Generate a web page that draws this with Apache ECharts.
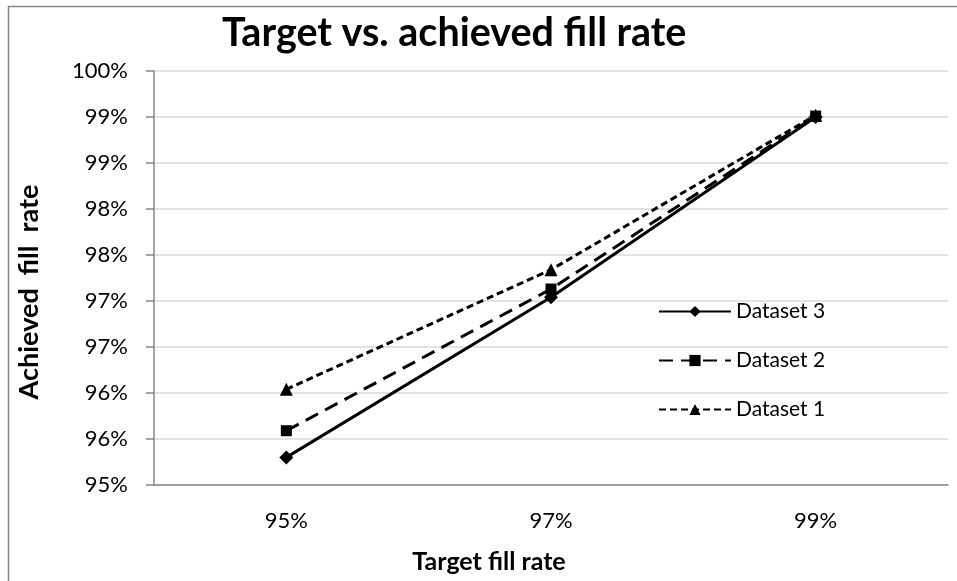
<!DOCTYPE html>
<html>
<head>
<meta charset="utf-8">
<script src="https://cdn.jsdelivr.net/npm/echarts@6/dist/echarts.min.js"></script>
<style>
html,body{margin:0;padding:0;background:#fff;}
#chart{width:957px;height:581px;}
</style>
</head>
<body>
<div id="chart"></div>
<script>
const categories = ['95%', '97%', '99%'];
const seriesNames = ['Dataset 3', 'Dataset 2', 'Dataset 1'];
const dataset3 = [95.30, 97.04, 99.00];
const dataset2 = [95.59, 97.13, 99.01];
const dataset1 = [96.04, 97.34, 99.02];
const yMin = 95, yMax = 99.5, yStep = 0.5;

const FONT = 'Lato';
const chart = echarts.init(document.getElementById('chart'), null, {renderer: 'canvas'});

function lineSeries(name, data, symbol, symbolSize, dash) {
  return {
    name: name, type: 'line', data: data,
    symbol: symbol, symbolSize: symbolSize,
    lineStyle: {color: '#000', width: 3, type: dash},
    itemStyle: {color: '#000'},
    z: 3
  };
}

chart.setOption({
  animation: false,
  backgroundColor: '#fff',
  textStyle: {fontFamily: FONT, color: '#000'},
  title: {
    text: 'Target vs. achieved fill rate',
    left: 217, top: 8,
    textStyle: {fontFamily: FONT, fontWeight: 'bold', fontSize: 39.5, color: '#000'}
  },
  graphic: [{
    type: 'rect', left: 6, top: 4,
    shape: {x: 0, y: 0, width: 970, height: 600},
    style: {fill: 'none', stroke: '#878787', lineWidth: 1.5},
    silent: true
  }],
  grid: {left: 154, right: 9, top: 71, bottom: 96},
  legend: {
    orient: 'vertical',
    left: 653, top: 296,
    data: seriesNames,
    itemWidth: 72, itemHeight: 14, itemGap: 28,
    textStyle: {fontFamily: FONT, fontSize: 21, color: '#000', lineHeight: 20}
  },
  xAxis: {
    type: 'category', data: categories, boundaryGap: true,
    name: 'Target fill rate', nameLocation: 'middle', nameGap: 64,
    nameTextStyle: {fontFamily: FONT, fontWeight: 'bold', fontSize: 25, color: '#000', padding: [0, 124, 0, 0]},
    axisLine: {lineStyle: {color: '#878787', width: 1.5}},
    axisTick: {length: 8, lineStyle: {color: '#878787', width: 1.5}},
    axisLabel: {fontFamily: FONT, fontSize: 22, color: '#000', margin: 25}
  },
  yAxis: {
    type: 'value', min: yMin, max: yMax, interval: yStep,
    name: 'Achieved  fill  rate', nameLocation: 'middle', nameGap: 111,
    nameTextStyle: {fontFamily: FONT, fontWeight: 'bold', fontSize: 27, color: '#000', padding: [0, 28, 0, 0]},
    axisLine: {show: true, lineStyle: {color: '#878787', width: 1.5}},
    axisTick: {show: true, length: 8, lineStyle: {color: '#878787', width: 1.5}},
    splitLine: {show: true, lineStyle: {color: '#d9d9d9', width: 1.5}},
    axisLabel: {
      fontFamily: FONT, fontSize: 22, color: '#000', margin: 26,
      formatter: function (v) { return Math.round(v) + '%'; }
    }
  },
  series: [
    lineSeries('Dataset 3', dataset3, 'diamond', 14, 'solid'),
    lineSeries('Dataset 2', dataset2, 'rect', 11, [14, 8]),
    lineSeries('Dataset 1', dataset1, 'triangle', 13, [7, 4])
  ]
});
</script>
</body>
</html>
